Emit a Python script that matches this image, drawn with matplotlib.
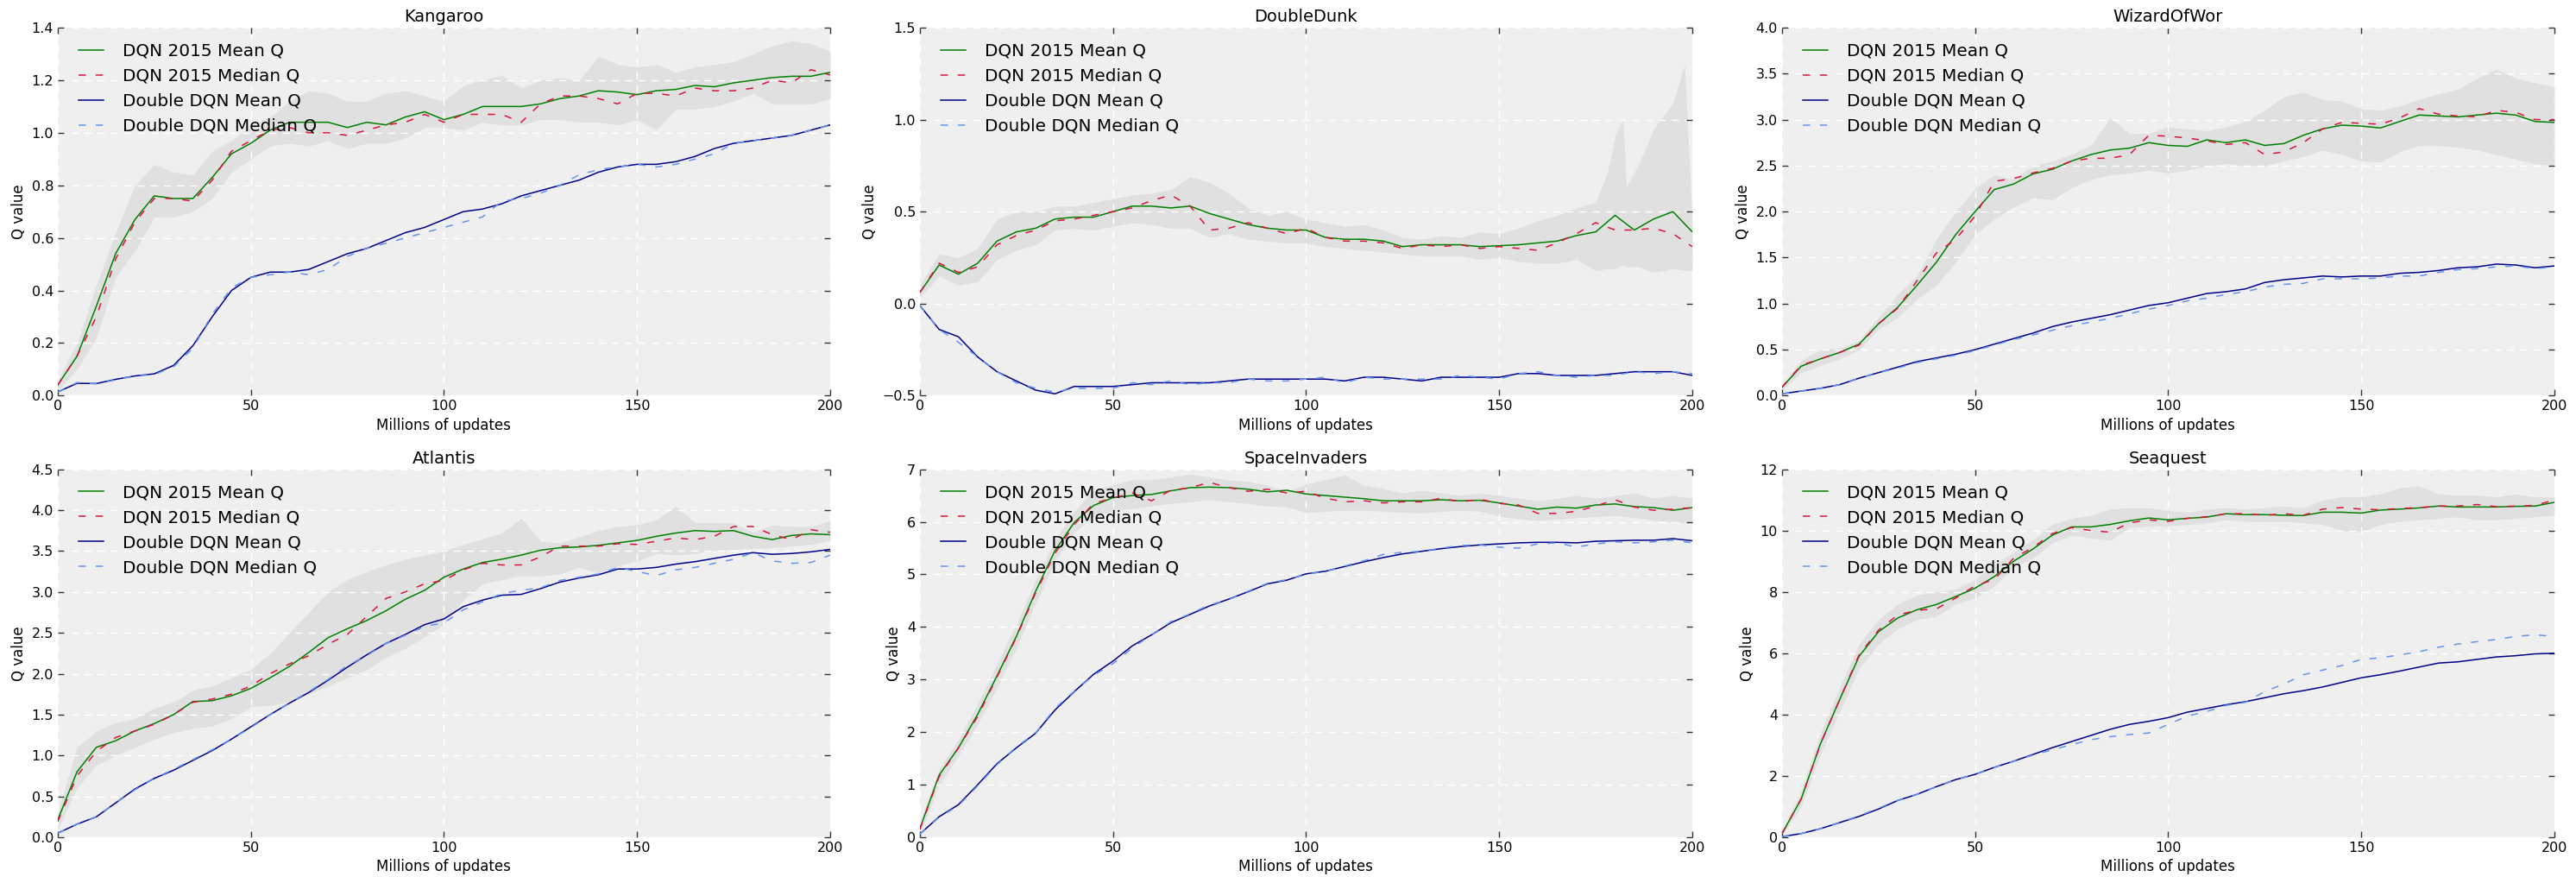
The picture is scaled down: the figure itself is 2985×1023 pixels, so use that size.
import matplotlib
matplotlib.use("Agg")
import matplotlib.pyplot as plt
from matplotlib.ticker import MultipleLocator

# x positions of the samples (millions of updates)
updates = list(range(0, 201, 5))

# Kangaroo
kangaroo_dqn_mean = [0.04, 0.15, 0.34, 0.54, 0.67, 0.76, 0.75, 0.75, 0.83, 0.92,
                     0.96, 1.01, 1.04, 1.04, 1.04, 1.02, 1.04, 1.03, 1.06, 1.08,
                     1.05, 1.07, 1.10, 1.10, 1.10, 1.11, 1.13, 1.14, 1.16, 1.155,
                     1.145, 1.16, 1.165, 1.18, 1.175, 1.19, 1.20, 1.21, 1.215, 1.215, 1.23]
kangaroo_dqn_median = [0.04, 0.15, 0.30, 0.52, 0.66, 0.75, 0.75, 0.74, 0.82, 0.93,
                       0.97, 1.01, 1.02, 1.00, 1.00, 0.99, 1.01, 1.03, 1.04, 1.07,
                       1.04, 1.07, 1.07, 1.07, 1.04, 1.11, 1.14, 1.14, 1.13, 1.11,
                       1.15, 1.15, 1.14, 1.17, 1.16, 1.16, 1.17, 1.20, 1.19, 1.24, 1.22]
kangaroo_ddqn_mean = [0.014, 0.047, 0.046, 0.062, 0.075, 0.083, 0.115, 0.19, 0.30, 0.40,
                      0.45, 0.47, 0.47, 0.48, 0.51, 0.54, 0.56, 0.59, 0.62, 0.64,
                      0.67, 0.70, 0.71, 0.73, 0.76, 0.78, 0.80, 0.82, 0.85, 0.87,
                      0.88, 0.88, 0.89, 0.91, 0.94, 0.96, 0.97, 0.98, 0.99, 1.01, 1.03]
kangaroo_ddqn_median = [0.014, 0.05, 0.045, 0.06, 0.075, 0.08, 0.11, 0.18, 0.31, 0.41,
                        0.45, 0.46, 0.47, 0.46, 0.48, 0.53, 0.56, 0.58, 0.60, 0.62,
                        0.64, 0.66, 0.68, 0.74, 0.75, 0.77, 0.80, 0.84, 0.86, 0.87,
                        0.88, 0.87, 0.88, 0.90, 0.92, 0.96, 0.97, 0.98, 0.99, 1.01, 1.03]
kangaroo_band_x = updates
kangaroo_band_lo = [0.02, 0.10, 0.22, 0.45, 0.55, 0.68, 0.68, 0.70, 0.75, 0.85,
                    0.90, 0.95, 0.96, 0.95, 0.97, 0.94, 0.96, 0.96, 0.98, 1.02,
                    1.02, 1.01, 1.04, 1.03, 1.03, 1.05, 1.05, 1.04, 1.04, 1.03,
                    1.05, 1.01, 1.09, 1.09, 1.10, 1.12, 1.15, 1.11, 1.11, 1.11, 1.13]
kangaroo_band_hi = [0.06, 0.20, 0.42, 0.62, 0.80, 0.88, 0.85, 0.84, 0.93, 0.97,
                    1.03, 1.06, 1.12, 1.16, 1.15, 1.12, 1.12, 1.15, 1.16, 1.14,
                    1.12, 1.18, 1.20, 1.22, 1.17, 1.20, 1.21, 1.20, 1.29, 1.26,
                    1.25, 1.26, 1.23, 1.25, 1.26, 1.27, 1.30, 1.33, 1.35, 1.34, 1.31]

# DoubleDunk
doubledunk_dqn_mean = [0.06, 0.21, 0.16, 0.22, 0.34, 0.39, 0.41, 0.46, 0.47, 0.47,
                       0.50, 0.53, 0.53, 0.52, 0.53, 0.49, 0.46, 0.43, 0.41, 0.40,
                       0.40, 0.36, 0.35, 0.35, 0.34, 0.31, 0.32, 0.32, 0.32, 0.31,
                       0.315, 0.32, 0.33, 0.34, 0.37, 0.39, 0.48, 0.40, 0.46, 0.50, 0.39]
doubledunk_dqn_median = [0.06, 0.22, 0.17, 0.20, 0.32, 0.37, 0.40, 0.45, 0.46, 0.48,
                         0.50, 0.52, 0.56, 0.59, 0.53, 0.40, 0.41, 0.44, 0.41, 0.38,
                         0.41, 0.36, 0.34, 0.34, 0.33, 0.30, 0.32, 0.31, 0.32, 0.30,
                         0.31, 0.30, 0.29, 0.33, 0.38, 0.44, 0.40, 0.40, 0.41, 0.38, 0.31]
doubledunk_ddqn_mean = [-0.01, -0.14, -0.18, -0.29, -0.37, -0.42, -0.47, -0.49, -0.45, -0.45,
                        -0.45, -0.44, -0.43, -0.43, -0.43, -0.43, -0.42, -0.41, -0.41, -0.41,
                        -0.41, -0.41, -0.42, -0.40, -0.40, -0.41, -0.42, -0.40, -0.40, -0.40,
                        -0.40, -0.38, -0.38, -0.39, -0.39, -0.39, -0.38, -0.37, -0.37, -0.37, -0.39]
doubledunk_ddqn_median = [-0.01, -0.14, -0.21, -0.29, -0.37, -0.43, -0.46, -0.48, -0.46, -0.46,
                          -0.46, -0.43, -0.44, -0.42, -0.44, -0.43, -0.43, -0.41, -0.42, -0.42,
                          -0.41, -0.40, -0.43, -0.40, -0.41, -0.41, -0.41, -0.41, -0.39, -0.40,
                          -0.41, -0.38, -0.37, -0.39, -0.40, -0.39, -0.39, -0.37, -0.38, -0.37, -0.38]
doubledunk_band_x = list(range(0, 176, 5)) + [178, 180, 182, 183, 186, 190, 195, 198, 200]
doubledunk_band_lo = [0.03, 0.15, 0.10, 0.12, 0.24, 0.29, 0.32, 0.40, 0.41, 0.40,
                      0.42, 0.44, 0.43, 0.41, 0.41, 0.36, 0.38, 0.35, 0.34, 0.33,
                      0.33, 0.31, 0.30, 0.29, 0.28, 0.27, 0.26, 0.26, 0.26, 0.24,
                      0.25, 0.23, 0.22, 0.22, 0.24, 0.18,
                      0.19, 0.19, 0.21, 0.20, 0.20, 0.17, 0.19, 0.18, 0.18]
doubledunk_band_hi = [0.10, 0.27, 0.25, 0.30, 0.46, 0.50, 0.50, 0.53, 0.53, 0.55,
                      0.57, 0.59, 0.60, 0.62, 0.69, 0.66, 0.60, 0.52, 0.48, 0.50,
                      0.46, 0.44, 0.42, 0.43, 0.40, 0.36, 0.35, 0.37, 0.36, 0.39,
                      0.38, 0.41, 0.45, 0.48, 0.52, 0.55,
                      0.71, 0.91, 1.00, 0.64, 0.75, 0.95, 1.09, 1.30, 0.45]

# WizardOfWor
wizard_dqn_mean = [0.09, 0.32, 0.40, 0.47, 0.56, 0.78, 0.96, 1.20, 1.45, 1.75,
                   2.00, 2.24, 2.30, 2.41, 2.46, 2.55, 2.62, 2.67, 2.69, 2.75,
                   2.72, 2.71, 2.78, 2.75, 2.78, 2.72, 2.74, 2.83, 2.90, 2.94,
                   2.93, 2.91, 2.98, 3.05, 3.04, 3.03, 3.05, 3.07, 3.05, 2.98, 2.97]
wizard_dqn_median = [0.09, 0.33, 0.40, 0.47, 0.55, 0.78, 0.95, 1.25, 1.55, 1.70,
                     1.95, 2.33, 2.36, 2.42, 2.47, 2.55, 2.58, 2.58, 2.62, 2.83,
                     2.82, 2.80, 2.77, 2.73, 2.75, 2.62, 2.65, 2.75, 2.90, 2.97,
                     2.96, 2.95, 3.02, 3.12, 3.06, 3.04, 3.03, 3.10, 3.08, 3.00, 3.00]
wizard_ddqn_mean = [0.02, 0.05, 0.08, 0.12, 0.19, 0.25, 0.31, 0.37, 0.41, 0.45,
                    0.50, 0.56, 0.62, 0.68, 0.75, 0.80, 0.84, 0.88, 0.93, 0.98,
                    1.01, 1.06, 1.11, 1.13, 1.16, 1.23, 1.26, 1.28, 1.30, 1.29,
                    1.30, 1.30, 1.33, 1.34, 1.36, 1.39, 1.40, 1.43, 1.42, 1.39, 1.41]
wizard_ddqn_median = [0.02, 0.05, 0.08, 0.12, 0.19, 0.25, 0.30, 0.36, 0.40, 0.44,
                      0.49, 0.55, 0.61, 0.66, 0.71, 0.76, 0.80, 0.84, 0.89, 0.94,
                      0.98, 1.03, 1.06, 1.10, 1.13, 1.18, 1.21, 1.22, 1.27, 1.27,
                      1.27, 1.28, 1.30, 1.30, 1.34, 1.37, 1.38, 1.40, 1.41, 1.38, 1.40]
wizard_band_x = updates
wizard_band_lo = [0.06, 0.25, 0.33, 0.40, 0.50, 0.72, 0.85, 1.05, 1.20, 1.45,
                  1.75, 1.92, 2.05, 2.15, 2.13, 2.26, 2.35, 2.40, 2.42, 2.45,
                  2.42, 2.45, 2.50, 2.52, 2.50, 2.50, 2.55, 2.60, 2.67, 2.62,
                  2.55, 2.54, 2.65, 2.72, 2.72, 2.70, 2.67, 2.62, 2.57, 2.52, 2.50]
wizard_band_hi = [0.12, 0.38, 0.50, 0.52, 0.60, 0.85, 1.10, 1.30, 1.70, 2.00,
                  2.25, 2.40, 2.35, 2.50, 2.55, 2.62, 2.72, 3.02, 2.85, 2.85,
                  2.92, 2.90, 2.88, 2.92, 2.98, 3.10, 3.25, 3.30, 3.22, 3.20,
                  3.12, 3.10, 3.15, 3.22, 3.28, 3.33, 3.45, 3.55, 3.45, 3.40, 3.36]

# Atlantis
atlantis_dqn_mean = [0.21, 0.80, 1.10, 1.18, 1.30, 1.39, 1.50, 1.66, 1.67, 1.73,
                     1.82, 1.95, 2.09, 2.26, 2.44, 2.55, 2.65, 2.77, 2.91, 3.02,
                     3.18, 3.28, 3.36, 3.40, 3.45, 3.51, 3.54, 3.55, 3.57, 3.60,
                     3.63, 3.68, 3.72, 3.75, 3.74, 3.75, 3.68, 3.64, 3.69, 3.71, 3.70]
atlantis_dqn_median = [0.19, 0.75, 1.05, 1.22, 1.30, 1.38, 1.50, 1.65, 1.69, 1.75,
                       1.85, 2.00, 2.12, 2.22, 2.36, 2.48, 2.70, 2.92, 3.00, 3.10,
                       3.14, 3.27, 3.35, 3.33, 3.33, 3.43, 3.56, 3.56, 3.56, 3.59,
                       3.58, 3.62, 3.66, 3.64, 3.68, 3.80, 3.80, 3.70, 3.64, 3.76, 3.73]
atlantis_ddqn_mean = [0.05, 0.16, 0.25, 0.42, 0.59, 0.72, 0.82, 0.94, 1.06, 1.20,
                      1.35, 1.50, 1.64, 1.77, 1.92, 2.08, 2.23, 2.37, 2.48, 2.60,
                      2.67, 2.82, 2.90, 2.96, 2.97, 3.04, 3.12, 3.17, 3.21, 3.28,
                      3.28, 3.30, 3.34, 3.37, 3.41, 3.45, 3.48, 3.46, 3.47, 3.49, 3.52]
atlantis_ddqn_median = [0.05, 0.16, 0.25, 0.42, 0.58, 0.72, 0.83, 0.95, 1.07, 1.20,
                        1.34, 1.50, 1.64, 1.78, 1.93, 2.10, 2.22, 2.37, 2.47, 2.58,
                        2.62, 2.78, 2.88, 2.98, 3.02, 3.05, 3.14, 3.18, 3.22, 3.30,
                        3.25, 3.20, 3.27, 3.30, 3.35, 3.40, 3.48, 3.38, 3.35, 3.36, 3.45]
atlantis_band_x = updates
atlantis_band_lo = [0.10, 0.60, 0.88, 1.00, 1.10, 1.20, 1.28, 1.33, 1.36, 1.45,
                    1.60, 1.61, 1.66, 1.75, 1.85, 1.95, 2.05, 2.20, 2.31, 2.45,
                    2.60, 2.90, 3.10, 3.15, 3.20, 3.19, 3.22, 3.30, 3.23, 3.32,
                    3.38, 3.47, 3.45, 3.47, 3.51, 3.52, 3.53, 3.54, 3.56, 3.58, 3.63]
atlantis_band_hi = [0.30, 1.10, 1.30, 1.40, 1.45, 1.58, 1.65, 1.80, 1.85, 1.95,
                    2.05, 2.25, 2.50, 2.75, 3.00, 3.15, 3.25, 3.33, 3.40, 3.45,
                    3.50, 3.58, 3.65, 3.72, 3.90, 3.62, 3.60, 3.67, 3.75, 3.80,
                    3.82, 3.88, 4.05, 3.85, 3.85, 3.84, 3.73, 3.82, 3.80, 3.80, 3.87]

# SpaceInvaders
invaders_dqn_mean = [0.16, 1.18, 1.70, 2.34, 3.07, 3.82, 4.68, 5.45, 5.99, 6.31,
                     6.46, 6.50, 6.52, 6.59, 6.65, 6.66, 6.65, 6.62, 6.57, 6.60,
                     6.53, 6.50, 6.47, 6.44, 6.40, 6.40, 6.40, 6.42, 6.40, 6.41,
                     6.36, 6.30, 6.24, 6.28, 6.26, 6.32, 6.34, 6.29, 6.27, 6.22, 6.27]
invaders_dqn_median = [0.15, 1.15, 1.70, 2.30, 3.05, 3.80, 4.65, 5.40, 5.95, 6.35,
                       6.45, 6.55, 6.40, 6.60, 6.65, 6.75, 6.65, 6.58, 6.62, 6.55,
                       6.58, 6.45, 6.38, 6.40, 6.36, 6.38, 6.38, 6.45, 6.38, 6.43,
                       6.35, 6.32, 6.16, 6.16, 6.20, 6.30, 6.42, 6.28, 6.22, 6.24, 6.27]
invaders_ddqn_mean = [0.06, 0.39, 0.62, 1.00, 1.40, 1.70, 1.98, 2.42, 2.77, 3.10,
                      3.35, 3.64, 3.85, 4.08, 4.24, 4.40, 4.53, 4.67, 4.82, 4.89,
                      5.01, 5.06, 5.15, 5.24, 5.32, 5.39, 5.44, 5.49, 5.53, 5.56,
                      5.58, 5.60, 5.61, 5.61, 5.60, 5.63, 5.64, 5.65, 5.65, 5.68, 5.64]
invaders_ddqn_median = [0.06, 0.38, 0.60, 0.98, 1.38, 1.72, 1.98, 2.45, 2.78, 3.08,
                        3.30, 3.60, 3.85, 4.10, 4.25, 4.42, 4.52, 4.68, 4.83, 4.90,
                        5.00, 5.06, 5.16, 5.26, 5.38, 5.42, 5.44, 5.50, 5.55, 5.56,
                        5.52, 5.50, 5.58, 5.60, 5.52, 5.58, 5.62, 5.60, 5.62, 5.65, 5.60]
invaders_band_x = updates
invaders_band_lo = [0.05, 1.00, 1.55, 2.15, 2.85, 3.60, 4.45, 5.25, 5.80, 6.10,
                    6.22, 6.25, 6.30, 6.35, 6.38, 6.42, 6.38, 6.35, 6.30, 6.28,
                    6.18, 6.20, 6.22, 6.22, 6.20, 6.18, 6.17, 6.20, 6.22, 6.20,
                    6.11, 6.06, 6.03, 6.05, 6.08, 6.10, 6.12, 6.08, 6.03, 6.00, 5.97]
invaders_band_hi = [0.30, 1.30, 1.85, 2.55, 3.30, 4.05, 4.90, 5.65, 6.20, 6.60,
                    6.70, 6.80, 6.80, 6.85, 6.91, 6.85, 6.80, 6.77, 6.70, 6.57,
                    6.72, 6.80, 6.89, 6.70, 6.63, 6.55, 6.60, 6.55, 6.50, 6.55,
                    6.50, 6.45, 6.40, 6.45, 6.50, 6.45, 6.50, 6.55, 6.45, 6.50, 6.45]

# Seaquest
seaquest_dqn_mean = [0.11, 1.25, 3.05, 4.50, 5.90, 6.70, 7.15, 7.42, 7.59, 7.85,
                     8.12, 8.50, 9.00, 9.40, 9.85, 10.12, 10.12, 10.20, 10.32, 10.41,
                     10.35, 10.40, 10.44, 10.55, 10.52, 10.52, 10.50, 10.49, 10.60, 10.60,
                     10.57, 10.67, 10.70, 10.74, 10.80, 10.77, 10.77, 10.77, 10.79, 10.80, 10.92]
seaquest_dqn_median = [0.11, 1.25, 3.05, 4.50, 5.95, 6.75, 7.25, 7.40, 7.45, 7.80,
                       8.20, 8.40, 9.10, 9.45, 9.90, 10.10, 10.00, 9.95, 10.25, 10.35,
                       10.30, 10.40, 10.45, 10.55, 10.55, 10.50, 10.55, 10.50, 10.70, 10.75,
                       10.70, 10.68, 10.72, 10.75, 10.80, 10.80, 10.85, 10.78, 10.80, 10.82, 11.00]
seaquest_ddqn_mean = [0.02, 0.12, 0.28, 0.48, 0.68, 0.92, 1.20, 1.40, 1.65, 1.88,
                      2.05, 2.28, 2.48, 2.70, 2.92, 3.12, 3.32, 3.52, 3.68, 3.78,
                      3.90, 4.08, 4.20, 4.32, 4.42, 4.55, 4.68, 4.78, 4.90, 5.05,
                      5.20, 5.30, 5.42, 5.55, 5.68, 5.72, 5.80, 5.88, 5.92, 5.98, 6.00]
seaquest_ddqn_median = [0.02, 0.12, 0.28, 0.48, 0.70, 0.95, 1.20, 1.40, 1.65, 1.88,
                        2.05, 2.28, 2.48, 2.68, 2.85, 3.02, 3.18, 3.28, 3.35, 3.40,
                        3.68, 3.95, 4.10, 4.30, 4.40, 4.75, 5.00, 5.30, 5.45, 5.60,
                        5.80, 5.85, 5.95, 6.05, 6.20, 6.30, 6.38, 6.45, 6.55, 6.60, 6.55]
seaquest_band_x = updates
seaquest_band_lo = [0.05, 1.00, 2.70, 4.10, 5.50, 6.30, 6.80, 7.10, 7.20, 7.60,
                    7.80, 8.20, 8.80, 9.10, 9.60, 9.85, 9.75, 9.70, 10.10, 10.15,
                    10.15, 10.20, 10.25, 10.35, 10.30, 10.30, 10.30, 10.25, 10.20, 10.00,
                    9.95, 10.20, 10.30, 10.35, 10.40, 10.45, 10.35, 10.35, 10.40, 10.45, 10.50]
seaquest_band_hi = [0.20, 1.50, 3.40, 4.90, 6.30, 7.10, 7.60, 7.90, 8.00, 8.10,
                    8.40, 8.90, 9.30, 9.70, 10.20, 10.40, 10.50, 10.70, 10.75, 10.74,
                    10.65, 10.60, 10.70, 10.75, 10.70, 10.75, 10.80, 10.75, 11.00, 11.10,
                    11.10, 11.20, 11.40, 11.45, 11.20, 11.15, 11.15, 11.10, 11.20, 11.10, 11.10]

labels = ["DQN 2015 Mean Q", "DQN 2015 Median Q", "Double DQN Mean Q", "Double DQN Median Q"]


def draw_game(ax, title, band, series, ylim, ystep):
    """Draws one game panel: grey band around DQN, then the four Q curves."""
    ax.set_facecolor("#efefef")
    for spine in ax.spines.values():
        spine.set_visible(False)
    ax.fill_between(band[0], band[1], band[2], color="#e0e0e0", linewidth=0)

    dqn_mean, dqn_median, ddqn_mean, ddqn_median = series
    ax.plot(updates, dqn_mean, color="green", lw=1.1, label=labels[0])
    ax.plot(updates, dqn_median, color="crimson", lw=1.1, dashes=(5.5, 7.5), label=labels[1])
    ax.plot(updates, ddqn_mean, color="darkblue", lw=1.1, label=labels[2])
    ax.plot(updates, ddqn_median, color="cornflowerblue", lw=1.1, dashes=(5.5, 7.5), label=labels[3])

    ax.set_xlim(0, 200)
    ax.set_ylim(*ylim)
    ax.xaxis.set_major_locator(MultipleLocator(50))
    ax.yaxis.set_major_locator(MultipleLocator(ystep))
    ax.grid(True, color="white", linestyle=(0, (6, 5)), linewidth=1)
    ax.set_axisbelow("line")
    ax.tick_params(direction="in", top=True, right=True, length=5, width=1,
                   color="#333333", labelsize=11.5)
    ax.set_title(title, fontsize=14, pad=5)
    ax.set_xlabel("Millions of updates", fontsize=12)
    ax.set_ylabel("Q value", fontsize=12)
    ax.legend(loc="upper left", bbox_to_anchor=(0.018, 0.977), borderaxespad=0,
              frameon=False, fontsize=14.4, handlelength=1.45, handletextpad=1.1,
              labelspacing=0.5)


fig, axes = plt.subplots(2, 3, figsize=(29.85, 10.23), dpi=100)
fig.subplots_adjust(left=0.0224, right=0.9916, top=0.9687, bottom=0.0518,
                    wspace=0.116, hspace=0.2)

draw_game(axes[0, 0], "Kangaroo",
          (kangaroo_band_x, kangaroo_band_lo, kangaroo_band_hi),
          (kangaroo_dqn_mean, kangaroo_dqn_median, kangaroo_ddqn_mean, kangaroo_ddqn_median),
          (0, 1.4), 0.2)
draw_game(axes[0, 1], "DoubleDunk",
          (doubledunk_band_x, doubledunk_band_lo, doubledunk_band_hi),
          (doubledunk_dqn_mean, doubledunk_dqn_median, doubledunk_ddqn_mean, doubledunk_ddqn_median),
          (-0.5, 1.5), 0.5)
draw_game(axes[0, 2], "WizardOfWor",
          (wizard_band_x, wizard_band_lo, wizard_band_hi),
          (wizard_dqn_mean, wizard_dqn_median, wizard_ddqn_mean, wizard_ddqn_median),
          (0, 4.0), 0.5)
draw_game(axes[1, 0], "Atlantis",
          (atlantis_band_x, atlantis_band_lo, atlantis_band_hi),
          (atlantis_dqn_mean, atlantis_dqn_median, atlantis_ddqn_mean, atlantis_ddqn_median),
          (0, 4.5), 0.5)
draw_game(axes[1, 1], "SpaceInvaders",
          (invaders_band_x, invaders_band_lo, invaders_band_hi),
          (invaders_dqn_mean, invaders_dqn_median, invaders_ddqn_mean, invaders_ddqn_median),
          (0, 7), 1)
draw_game(axes[1, 2], "Seaquest",
          (seaquest_band_x, seaquest_band_lo, seaquest_band_hi),
          (seaquest_dqn_mean, seaquest_dqn_median, seaquest_ddqn_mean, seaquest_ddqn_median),
          (0, 12), 2)

fig.savefig("out.png", dpi=100)
